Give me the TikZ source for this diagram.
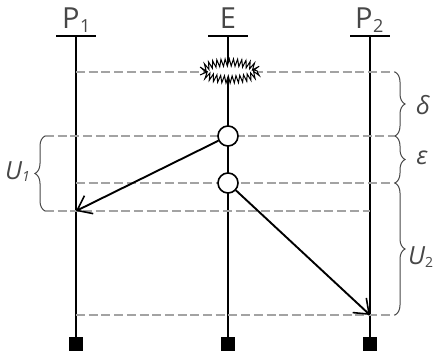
\documentclass[tikz,border=0pt]{standalone}
\usepackage{fontspec}
\setmainfont{Open Sans}
\usetikzlibrary{arrows.meta, decorations.pathmorphing, decorations.pathreplacing, shapes.geometric}
\definecolor{guidegray}{gray}{0.64}
\definecolor{inkgray}{gray}{0.28}
\tikzset{
    lifeline/.style={line width=2.2pt, black},
    headbar/.style={line width=1.7pt, black},
    guide/.style={dash pattern=on 9pt off 3.7pt, line width=1.1pt, guidegray},
    endbox/.style={draw=none, fill=black, minimum size=14pt, inner sep=0pt},
    event/.style={circle, draw=black, line width=1.6pt, fill=white, minimum size=20pt, inner sep=0pt},
    burst/.style={ellipse, draw=black, fill=white, line width=1pt, minimum width=55pt, minimum height=17pt, inner sep=0pt,
        decorate, decoration={zigzag, segment length=4pt, amplitude=3.6pt}},
    msg/.style={line width=1.9pt, -{Straight Barb[length=13pt, width=20pt, line width=1.6pt]}},
    bracegap/.style={decorate, decoration={brace, amplitude=10pt}, line width=1pt, inkgray},
    lbl/.style={font=\fontsize{29}{31}\selectfont, text=inkgray, inner sep=0pt},
    sublbl/.style={font=\fontsize{25}{27}\selectfont\itshape, text=inkgray, inner sep=0pt},
    indexlbl/.style={inner sep=0pt, text=inkgray, font=\fontsize{18}{20}\selectfont}
}

\begin{document}
\begin{tikzpicture}[x=1pt, y=-1pt]
    \useasboundingbox (0,0) rectangle (433,356);

    % Process heads
    \foreach \name/\xx in {pa/76, pe/228, pb/370} {
        \coordinate (\name top) at (\xx,36);
        \coordinate (\name left) at (\xx-20,36);
        \coordinate (\name right) at (\xx+20,36);
        \node[endbox] (\name end) at (\xx,344) {};
        \draw[headbar] (\name left) -- (\name right);
        \draw[lifeline] (\name top) -- (\name end);
    }
    \node[lbl, anchor=base west] (palbl) at (62,28) {P};
    \node[indexlbl, anchor=base west] (pasub) at (80,32) {1};
    \node[lbl, anchor=base] (pelbl) at (228,28) {E};
    \node[lbl, anchor=base west] (pblbl) at (355,28) {P};
    \node[indexlbl, anchor=base west] (pbsub) at (373,32) {2};

    % Guide lines
    \coordinate (ga) at (76,72);   \coordinate (gaa) at (395,72);
    \coordinate (gb) at (45,136);  \coordinate (gbb) at (395,136);
    \coordinate (gc) at (76,183);  \coordinate (gcc) at (395,183);
    \coordinate (gd) at (45,211);  \coordinate (gdd) at (370,211);
    \coordinate (ge) at (76,315);  \coordinate (gee) at (395,315);
    \foreach \s/\t in {ga/gaa, gb/gbb, gc/gcc, gd/gdd, ge/gee} {
        \draw[guide] (\s) -- (\t);
    }

    % Events
    \node[burst] (crash) at (230,71) {};
    \node[event] (ea) at (228,136) {};
    \node[event] (eb) at (228,183) {};
    \coordinate (hita) at (76,211);
    \coordinate (hitb) at (370,315);
    \draw[msg] (ea) -- (hita);
    \draw[msg] (eb) -- (hitb);

    % Braces
    \draw[bracegap] (395,72) -- (395,136) node[midway] (bd) {};
    \draw[bracegap] (395,136) -- (395,183) node[midway] (be) {};
    \draw[bracegap] (395,183) -- (395,315) node[midway] (bu) {};
    \draw[bracegap] (45,211) -- (45,136) node[midway] (bl) {};
    \node[sublbl] (delta) at (423,105) {δ};
    \node[sublbl] (eps) at (422,158) {ε};
    \node[sublbl, anchor=base west] (utwo) at (408,264) {U};
    \node[indexlbl, anchor=base west, font=\fontsize{14}{16}\selectfont] (utwosub) at (425,267) {2};
    \node[sublbl, anchor=base west] (uone) at (5,179) {U};
    \node[indexlbl, anchor=base west, font=\fontsize{14}{16}\selectfont\itshape] (uonesub) at (22,181) {1};
\end{tikzpicture}
\end{document}
